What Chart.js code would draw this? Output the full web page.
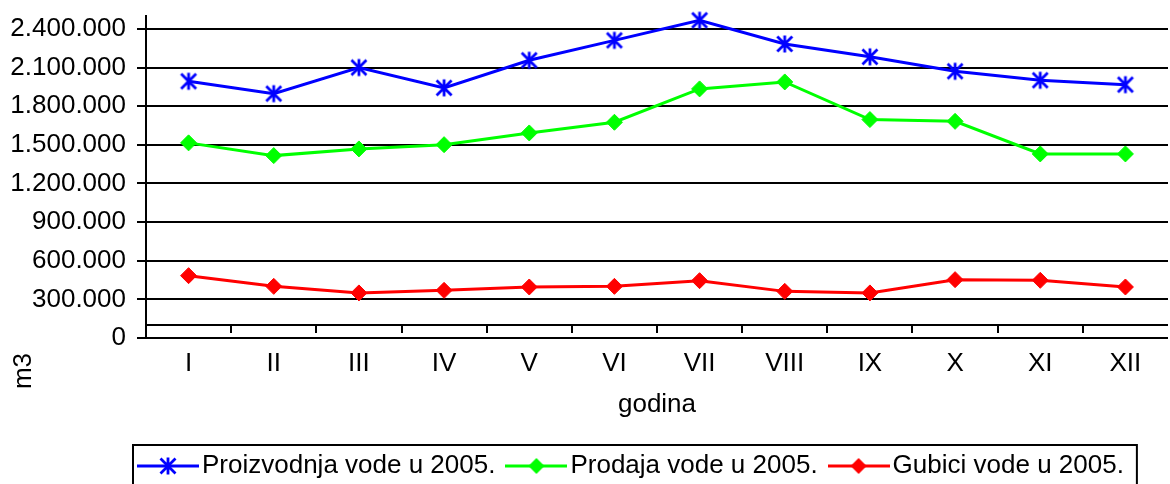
<!DOCTYPE html>
<html>
<head>
<meta charset="utf-8">
<script src="https://cdn.jsdelivr.net/npm/chart.js@4"></script>
<style>
  html, body { margin: 0; padding: 0; background: #fff; overflow: hidden; }
  canvas { display: block; }
</style>
</head>
<body>
<canvas id="chart" width="1170" height="484"></canvas>
<script>
const months = ["I", "II", "III", "IV", "V", "VI", "VII", "VIII", "IX", "X", "XI", "XII"];
const proizvodnja = [1993000, 1897000, 2100000, 1942000, 2156000, 2311000, 2467000, 2283000, 2183000, 2071000, 2001000, 1967000];
const prodaja = [1515000, 1416000, 1468000, 1501000, 1592000, 1675000, 1934000, 1988000, 1696000, 1682000, 1429000, 1429000];
const gubici = [484000, 401000, 350000, 370000, 396000, 401000, 445000, 362000, 350000, 453000, 448000, 396000];
const yTicks = [0, 300000, 600000, 900000, 1200000, 1500000, 1800000, 2100000, 2400000];
const categoryCross = 100000;

const BLUE = "#0000ff";
const GREEN = "#00ff00";
const RED = "#ff0000";

Chart.defaults.font.family = "'Liberation Sans', Arial, sans-serif";
Chart.defaults.font.size = 26;
Chart.defaults.color = "#000";

function fmt(v) {
  return String(v).replace(/\B(?=(\d{3})+(?!\d))/g, ".");
}

// marker / legend icon as a small canvas
function makeIcon(kind, color, w, h) {
  const c = document.createElement("canvas");
  c.width = w;
  c.height = h;
  const ctx = c.getContext("2d");
  const cx = w / 2;
  const cy = h / 2;
  ctx.strokeStyle = color;
  ctx.fillStyle = color;
  ctx.lineWidth = 3;
  if (w > 30) {
    ctx.beginPath();
    ctx.moveTo(0, cy);
    ctx.lineTo(w, cy);
    ctx.stroke();
  }
  if (kind === "star") {
    ctx.lineWidth = 2.8;
    ctx.beginPath();
    ctx.moveTo(cx - 7.5, cy - 7.5);
    ctx.lineTo(cx + 7.5, cy + 7.5);
    ctx.moveTo(cx + 7.5, cy - 7.5);
    ctx.lineTo(cx - 7.5, cy + 7.5);
    ctx.moveTo(cx, cy - 8.5);
    ctx.lineTo(cx, cy + 8.5);
    ctx.stroke();
  } else {
    ctx.beginPath();
    ctx.moveTo(cx - 8, cy);
    ctx.lineTo(cx, cy - 8);
    ctx.lineTo(cx + 8, cy);
    ctx.lineTo(cx, cy + 8);
    ctx.closePath();
    ctx.fill();
  }
  return c;
}

const starPoint = makeIcon("star", BLUE, 22, 22);
const legendIcons = [
  makeIcon("star", BLUE, 62, 22),
  makeIcon("diamond", GREEN, 62, 22),
  makeIcon("diamond", RED, 62, 22),
];

// the plot area in the original runs a few px past the right edge,
// and the legend box is cut off at the bottom
const stretch = {
  id: "stretch",
  afterLayout(chart) {
    const extra = 7;
    const x = chart.scales.x;
    x.right += extra;
    x.width += extra;
    x.configure();
    chart.chartArea.right += extra;
    chart.chartArea.width += extra;

    const lg = chart.legend;
    const w = lg.right - lg.left;
    lg.left = 127;
    lg.right = lg.left + w;
    lg.top += 5;
    lg.bottom += 5;
  },
};

const categoryAxis = {
  id: "categoryAxis",
  beforeDatasetsDraw(chart) {
    const { ctx, chartArea, scales } = chart;
    const yPix = Math.round(scales.y.getPixelForValue(categoryCross));
    const band = scales.x.getPixelForValue(1) - scales.x.getPixelForValue(0);
    ctx.save();
    ctx.strokeStyle = "#000";
    ctx.lineWidth = 2;
    ctx.beginPath();
    ctx.moveTo(chartArea.left, yPix);
    ctx.lineTo(chartArea.right, yPix);
    for (let i = 1; i < months.length; i++) {
      const xb = Math.round(scales.x.getPixelForValue(i) - band / 2);
      ctx.moveTo(xb, yPix);
      ctx.lineTo(xb, yPix + 8);
    }
    ctx.stroke();
    ctx.restore();
  },
  afterDraw(chart) {
    const { ctx, chartArea } = chart;
    ctx.save();
    ctx.fillStyle = "#000";
    ctx.font = "26px 'Liberation Sans', Arial, sans-serif";
    ctx.textAlign = "center";
    ctx.textBaseline = "middle";
    ctx.translate(chartArea.left - 122, chartArea.bottom + 33);
    ctx.rotate(-Math.PI / 2);
    ctx.fillText("m3", 0, 0);
    ctx.restore();

    const lg = chart.legend;
    ctx.save();
    ctx.strokeStyle = "#000";
    ctx.lineWidth = 2;
    ctx.strokeRect(lg.left + 6, lg.top + 12, lg.lineWidths[0] + 7, 100);
    ctx.restore();
  },
};

new Chart(document.getElementById("chart"), {
  type: "line",
  data: {
    labels: months,
    datasets: [
      {
        label: "Proizvodnja vode u 2005.",
        data: proizvodnja,
        borderColor: BLUE,
        backgroundColor: BLUE,
        borderWidth: 3,
        pointStyle: starPoint,
        clip: false,
      },
      {
        label: "Prodaja vode u 2005.",
        data: prodaja,
        borderColor: GREEN,
        backgroundColor: GREEN,
        borderWidth: 3,
        pointStyle: "rectRot",
        pointRadius: 8,
        pointBorderWidth: 1,
        clip: false,
      },
      {
        label: "Gubici vode u 2005.",
        data: gubici,
        borderColor: RED,
        backgroundColor: RED,
        borderWidth: 3,
        pointStyle: "rectRot",
        pointRadius: 8,
        pointBorderWidth: 1,
        clip: false,
      },
    ],
  },
  options: {
    responsive: false,
    maintainAspectRatio: false,
    animation: false,
    devicePixelRatio: 1,
    layout: { padding: { top: 16, left: 0, right: 0, bottom: 0 } },
    elements: { line: { tension: 0 } },
    plugins: {
      tooltip: { enabled: false },
      legend: {
        position: "bottom",
        align: "start",
        labels: {
          usePointStyle: true,
          pointStyleWidth: 42,
          padding: 20,
          color: "#000",
          font: { size: 26 },
          generateLabels(chart) {
            const items = Chart.defaults.plugins.legend.labels.generateLabels(chart);
            items.forEach((item, i) => {
              item.pointStyle = legendIcons[i];
            });
            return items;
          },
        },
      },
    },
    scales: {
      x: {
        offset: true,
        grid: { display: false, drawTicks: false },
        border: { display: false },
        ticks: { padding: 10, maxRotation: 0, autoSkip: false, color: "#000" },
        title: { display: true, text: "godina", color: "#000", padding: { top: 0, bottom: 8 } },
        afterFit(scale) {
          scale.height = 90;
          scale.paddingLeft = 0;
          scale.paddingRight = 0;
        },
      },
      y: {
        min: 0,
        max: 2500000,
        afterBuildTicks(scale) {
          scale.ticks = yTicks.map((v) => ({ value: v }));
        },
        afterFit(scale) {
          scale.width = 146;
          scale.paddingTop = 0;
          scale.paddingBottom = 0;
        },
        grid: { color: "#000", lineWidth: 2, tickLength: 9, drawTicks: true, tickColor: "#000" },
        border: { display: true, color: "#000", width: 2 },
        ticks: { padding: 11, color: "#000", callback: (v) => fmt(v) },
      },
    },
  },
  plugins: [stretch, categoryAxis],
});
</script>
</body>
</html>
